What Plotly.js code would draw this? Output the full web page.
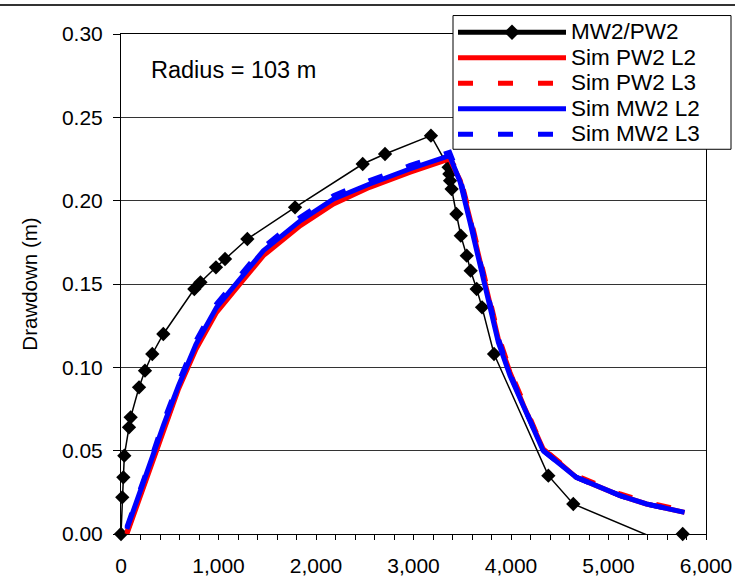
<!DOCTYPE html>
<html>
<head>
<meta charset="utf-8">
<script src="https://cdn.plot.ly/plotly-3.0.1.min.js"></script>
<style>
  html, body { margin: 0; padding: 0; background: #ffffff; }
  #chart { width: 735px; height: 583px; }
</style>
</head>
<body>
<div id="chart"></div>
<script>
// Observed drawdown MW2/PW2
var obsTime = [0, 13, 24, 34, 82, 99, 185, 246, 321, 434, 752, 815, 974, 1067, 1296, 1785, 2479, 2708, 3179, 3360, 3368, 3375, 3391, 3440, 3485, 3546, 3586, 3648, 3703, 3826, 4383, 4639, 5655, 5761];
var obsDrawdown = [0, 0.022, 0.034, 0.047, 0.064, 0.070, 0.088, 0.098, 0.108, 0.120, 0.147, 0.151, 0.160, 0.165, 0.177, 0.196, 0.222, 0.228, 0.239, 0.220, 0.216, 0.212, 0.207, 0.192, 0.179, 0.167, 0.158, 0.147, 0.136, 0.108, 0.035, 0.018, -0.007, 0.000];

// Simulated drawdown
var simTime = [60, 200, 320, 440, 590, 770, 980, 1220, 1460, 1840, 2180, 2550, 2960, 3370, 3480, 3580, 3680, 3770, 3870, 3990, 4130, 4330, 4670, 5120, 5390, 5780];
var simPW2L2 = [0.000, 0.023, 0.044, 0.064, 0.087, 0.111, 0.133, 0.150, 0.167, 0.185, 0.198, 0.208, 0.217, 0.225, 0.212, 0.189, 0.165, 0.141, 0.117, 0.097, 0.077, 0.051, 0.034, 0.023, 0.018, 0.013];
var simPW2L3 = [0.001, 0.024, 0.045, 0.065, 0.088, 0.112, 0.134, 0.151, 0.168, 0.186, 0.199, 0.209, 0.218, 0.226, 0.214, 0.191, 0.167, 0.143, 0.119, 0.098, 0.078, 0.051, 0.035, 0.024, 0.019, 0.014];
var simMW2L2 = [0.003, 0.025, 0.046, 0.066, 0.089, 0.114, 0.136, 0.153, 0.170, 0.188, 0.201, 0.210, 0.219, 0.227, 0.211, 0.187, 0.163, 0.139, 0.115, 0.095, 0.076, 0.050, 0.034, 0.023, 0.018, 0.013];
var simMW2L3 = [0.004, 0.026, 0.047, 0.068, 0.091, 0.116, 0.138, 0.155, 0.172, 0.190, 0.203, 0.212, 0.221, 0.229, 0.213, 0.189, 0.165, 0.141, 0.117, 0.096, 0.077, 0.050, 0.034, 0.023, 0.018, 0.013];

var seriesNames = ['MW2/PW2', 'Sim PW2 L2', 'Sim PW2 L3', 'Sim MW2 L2', 'Sim MW2 L3'];
var xTickValues = [0, 1000, 2000, 3000, 4000, 5000, 6000];
var yTickValues = [0, 0.05, 0.10, 0.15, 0.20, 0.25, 0.30];
var noteText = 'Radius = 103 m';
var yTitle = 'Drawdown (m)';

var FONT = 'Liberation Sans, Arial, sans-serif';
var W = 735, H = 583;
var M = {l: 121, r: 29, t: 33.5, b: 48.5};
var plotW = W - M.l - M.r, plotH = H - M.t - M.b;
function px2paperX(px) { return (px - M.l) / plotW; }
function px2paperY(py) { return (H - M.b - py) / plotH; }

var markerSizes = obsDrawdown.map(function (v) { return v < 0 ? 0 : 11; });
function legendName(s) { return '<span style="font-size:22.5px">' + s + '</span>'; }

var dashPat = '15px,25px';
var traces = [
  {x: obsTime, y: obsDrawdown, name: legendName(seriesNames[0]), type: 'scatter', mode: 'lines+markers',
   cliponaxis: false,
   line: {color: '#000000', width: 1.5},
   marker: {symbol: 'diamond', size: markerSizes, color: '#000000', opacity: 1, line: {width: 0}}},
  {x: simTime, y: simPW2L2, name: legendName(seriesNames[1]), type: 'scatter', mode: 'lines',
   line: {color: '#ff0000', width: 5}},
  {x: simTime, y: simPW2L3, name: legendName(seriesNames[2]), type: 'scatter', mode: 'lines',
   line: {color: '#ff0000', width: 5, dash: dashPat}},
  {x: simTime, y: simMW2L2, name: legendName(seriesNames[3]), type: 'scatter', mode: 'lines',
   line: {color: '#0000ff', width: 5}},
  {x: simTime, y: simMW2L3, name: legendName(seriesNames[4]), type: 'scatter', mode: 'lines',
   line: {color: '#0000ff', width: 5, dash: dashPat}}
];

var layout = {
  width: W, height: H,
  margin: M,
  paper_bgcolor: '#ffffff', plot_bgcolor: '#ffffff',
  font: {family: FONT, size: 20, color: '#000000'},
  showlegend: true,
  legend: {
    x: px2paperX(453), y: px2paperY(14),
    xanchor: 'left', yanchor: 'top',
    bgcolor: 'rgba(0,0,0,0)', bordercolor: '#000000', borderwidth: 0,
    font: {family: FONT, size: 17.3, color: '#000000'},
    itemsizing: 'constant', itemwidth: 108,
    tracegroupgap: 0
  },
  xaxis: {
    range: [0, 6000],
    tickvals: xTickValues,
    tickformat: ',d',
    ticks: 'outside', ticklen: 5, tickwidth: 1, tickcolor: '#000000',
    minor: {dtick: 200, ticks: 'outside', ticklen: 5, tickwidth: 1, tickcolor: '#000000', showgrid: false},
    showgrid: false, zeroline: false,
    showline: true, linecolor: '#000000', linewidth: 1, mirror: true,
    ticklabelstandoff: 8,
    tickfont: {family: FONT, size: 21, color: '#000000'}
  },
  yaxis: {
    range: [0, 0.30],
    tickvals: yTickValues,
    tickformat: '.2f',
    ticks: 'outside', ticklen: 7, tickwidth: 1, tickcolor: '#000000',
    showgrid: true, gridcolor: '#333333', gridwidth: 1,
    zeroline: false,
    showline: true, linecolor: '#000000', linewidth: 1, mirror: true,
    ticklabelstandoff: 6,
    tickfont: {family: FONT, size: 21, color: '#000000'},
    title: {text: yTitle, font: {family: FONT, size: 20.5, color: '#000000'}, standoff: 18}
  },
  annotations: [{
    text: noteText, xref: 'x', yref: 'y', x: 290, y: 0.2787,
    xanchor: 'left', yanchor: 'middle', showarrow: false,
    font: {family: FONT, size: 23.5, color: '#000000'}
  }],
  shapes: [
    {
      type: 'line', xref: 'paper', yref: 'paper',
      x0: -M.l / plotW, x1: 1 + M.r / plotW,
      y0: px2paperY(4.5), y1: px2paperY(4.5),
      line: {color: '#333333', width: 2}
    },
    {
      type: 'rect', xref: 'paper', yref: 'paper', layer: 'above',
      x0: px2paperX(453), x1: px2paperX(731),
      y0: px2paperY(149), y1: px2paperY(15),
      fillcolor: '#ffffff', line: {color: '#000000', width: 1}
    }
  ]
};

Plotly.newPlot('chart', traces, layout, {displayModeBar: false, staticPlot: true});
</script>
</body>
</html>
